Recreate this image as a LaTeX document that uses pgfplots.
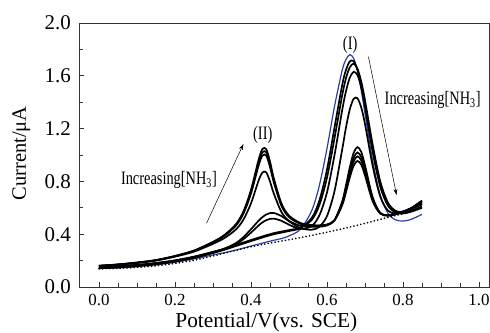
\documentclass[border=0pt]{standalone}
\usepackage{fontspec}
\setmainfont{Liberation Serif}
\newfontfamily\narrowserif[FakeStretch=0.76]{Liberation Serif}
\usepackage{pgfplots}
\usepackage{pgfplotstable}
\pgfplotsset{compat=1.18}
\usetikzlibrary{arrows.meta}
\definecolor{cvblue}{RGB}{42,62,158}

% Differential pulse voltammograms: blank (bl), curves with increasing [NH3]
\pgfplotstableread{
x    bl    a1    a2    a3    a4    b1    b2    c1    c2
0.00 0.140 0.161 0.161 0.160 0.159 0.152 0.148 0.150 0.142
0.05 0.145 0.171 0.170 0.170 0.169 0.158 0.154 0.156 0.148
0.10 0.155 0.185 0.185 0.184 0.182 0.168 0.164 0.166 0.158
0.15 0.168 0.204 0.203 0.203 0.200 0.182 0.178 0.180 0.172
0.20 0.188 0.235 0.234 0.233 0.230 0.202 0.198 0.200 0.192
0.25 0.213 0.276 0.275 0.274 0.268 0.230 0.226 0.228 0.220
0.30 0.243 0.342 0.340 0.337 0.327 0.266 0.262 0.265 0.257
0.33 0.260 0.394 0.391 0.388 0.371 0.291 0.286 0.290 0.282
0.36 0.280 0.475 0.469 0.464 0.435 0.332 0.323 0.318 0.310
0.38 0.295 0.572 0.564 0.555 0.510 0.378 0.362 0.337 0.329
0.40 0.310 0.736 0.722 0.708 0.634 0.438 0.412 0.356 0.348
0.42 0.325 0.964 0.942 0.920 0.806 0.502 0.466 0.374 0.366
0.43 0.332 1.045 1.020 0.995 0.867 0.529 0.489 0.383 0.375
0.44 0.340 1.045 1.021 0.996 0.869 0.549 0.506 0.392 0.384
0.45 0.347 0.951 0.930 0.909 0.800 0.560 0.516 0.400 0.392
0.46 0.354 0.824 0.808 0.792 0.708 0.561 0.518 0.408 0.400
0.48 0.367 0.634 0.625 0.616 0.569 0.538 0.502 0.420 0.412
0.50 0.387 0.541 0.535 0.530 0.502 0.498 0.472 0.431 0.424
0.53 0.437 0.485 0.482 0.479 0.464 0.446 0.440 0.450 0.446
0.56 0.580 0.468 0.467 0.465 0.456 0.434 0.463 0.509 0.524
0.58 0.771 0.467 0.465 0.464 0.457 0.457 0.543 0.621 0.656
0.60 1.050 0.473 0.472 0.471 0.466 0.538 0.717 0.829 0.890
0.62 1.372 0.505 0.507 0.508 0.507 0.729 1.003 1.131 1.212
0.64 1.642 0.620 0.630 0.639 0.648 1.042 1.340 1.453 1.531
0.65 1.724 0.719 0.737 0.752 0.771 1.209 1.484 1.582 1.645
0.66 1.760 0.829 0.855 0.876 0.906 1.346 1.586 1.664 1.709
0.67 1.733 0.918 0.950 0.978 1.015 1.425 1.630 1.692 1.711
0.68 1.638 0.955 0.990 1.019 1.060 1.430 1.606 1.655 1.647
0.69 1.491 0.927 0.959 0.986 1.024 1.361 1.516 1.558 1.527
0.70 1.314 0.845 0.871 0.893 0.922 1.234 1.378 1.415 1.369
0.72 0.956 0.651 0.662 0.670 0.682 0.920 1.045 1.081 1.026
0.74 0.698 0.556 0.558 0.560 0.561 0.686 0.776 0.802 0.762
0.76 0.561 0.542 0.542 0.542 0.541 0.580 0.627 0.641 0.618
0.78 0.509 0.552 0.552 0.552 0.550 0.556 0.573 0.577 0.565
0.80 0.500 0.571 0.571 0.571 0.570 0.567 0.571 0.564 0.557
0.82 0.511 0.595 0.595 0.595 0.594 0.590 0.591 0.577 0.569
0.85 0.550 0.655 0.650 0.644 0.639 0.630 0.625 0.610 0.600
}\cvdata

% Background (supporting electrolyte only)
\pgfplotstableread{
x    y
0.00 0.138
0.05 0.141
0.10 0.148
0.15 0.160
0.20 0.178
0.25 0.202
0.30 0.235
0.35 0.270
0.40 0.305
0.45 0.333
0.50 0.358
0.55 0.385
0.60 0.415
0.65 0.447
0.70 0.482
0.75 0.520
0.80 0.555
}\bgdata

\begin{document}
\begin{tikzpicture}
\useasboundingbox (-79bp,-46bp) rectangle (411bp,287bp);
\begin{axis}[
  at={(0,0)}, anchor=south west,
  scale only axis, width=410bp, height=264bp,
  xmin=-0.0526, xmax=1.0263, ymin=0, ymax=2.0,
  xtick={0,0.2,0.4,0.6,0.8,1.0},
  xticklabels={0.0,0.2,0.4,0.6,0.8,1.0},
  ytick={0,0.4,0.8,1.2,1.6,2.0},
  yticklabels={0.0,0.4,0.8,1.2,1.6,2.0},
  minor x tick num=3, minor y tick num=1,
  tick pos=left, tick align=inside,
  major tick length=5bp, minor tick length=4.5bp,
  axis line style={draw=black!80, line width=0.8bp},
  every tick/.style={black!80, line width=0.7bp},
  xticklabel style={font=\fontsize{17}{19}\selectfont, inner sep=0pt, yshift=-7bp},
  yticklabel style={font=\fontsize{21}{23}\selectfont, inner sep=0pt, xshift=-8bp},
  xlabel={Potential/V(vs. SCE)},
  ylabel={Current/μA},
  xlabel style={font=\fontsize{21.4}{23}\selectfont, at={(axis description cs:0.457,-0.1326)}, anchor=center},
  ylabel style={font=\fontsize{20.5}{23}\selectfont, at={(axis description cs:-0.1405,0.506)}, anchor=center},
  clip=false,
]
\addplot[cvblue, line width=1.2bp, smooth] table[x=x, y=bl] {\cvdata};
\addplot[black, line width=1.6bp, line cap=round, dash pattern=on 0.3bp off 3.2bp] table[x=x, y=y] {\bgdata};
\foreach \col in {c2,c1,b2,b1,a4,a3,a2,a1} {
  \addplot[black, line width=1.7bp, smooth] table[x=x, y=\col] {\cvdata};
}
\node[font=\narrowserif\fontsize{19}{21}\selectfont] at (axis cs:0.661,1.833) {(I)};
\node[font=\narrowserif\fontsize{19}{21}\selectfont] at (axis cs:0.431,1.152) {(II)};
\node[font=\narrowserif\fontsize{19}{21}\selectfont] at (axis cs:0.878,1.417) {Increasing[NH\textsubscript{3}]};
\node[font=\narrowserif\fontsize{19}{21}\selectfont] at (axis cs:0.184,0.81) {Increasing[NH\textsubscript{3}]};
\draw[-{Stealth[length=6bp,width=4bp]}, line width=0.5bp] (axis cs:0.283,0.483) -- (axis cs:0.38,1.083);
\draw[-{Stealth[length=6bp,width=4bp]}, line width=0.5bp] (axis cs:0.709,1.745) -- (axis cs:0.783,0.697);
\end{axis}
\end{tikzpicture}
\end{document}
